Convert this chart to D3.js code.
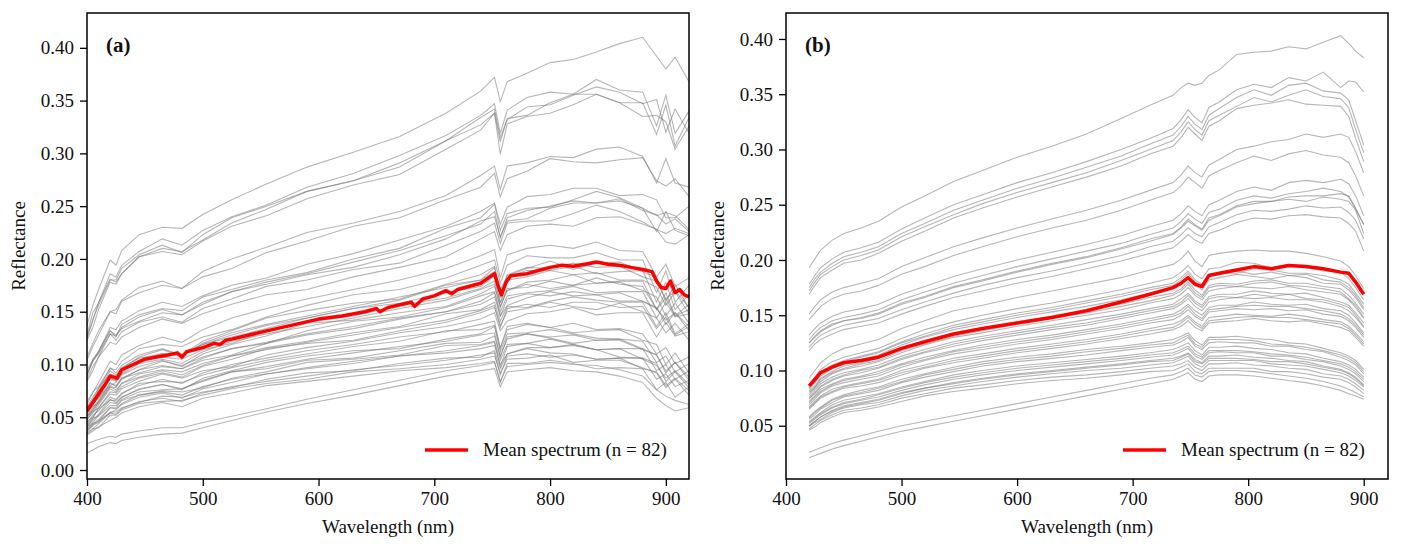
<!DOCTYPE html>
<html>
<head>
<meta charset="utf-8">
<script src="https://cdn.jsdelivr.net/npm/d3@7"></script>
<style>
  body { margin: 0; background: #fff; }
</style>
</head>
<body>
<svg id="chart" width="1401" height="548"></svg>
<script>
// reflectance values are stored in percent

// ---- panel (a): raw spectra ----
const wlA = [400, 405, 410, 420, 425, 430, 445, 465, 482, 500, 525, 555, 590, 630, 670, 710, 740, 752, 757, 763, 780, 800, 820, 840, 860, 880, 892, 900, 908, 920]

const meanWlA = [400, 405, 410, 415, 420, 423, 426, 430, 440, 450, 460, 470, 478, 482, 486, 500, 510, 515, 520, 525, 540, 560, 580, 600, 620, 640, 650, 653, 660, 680, 683, 690, 700, 710, 715, 720, 740, 748, 752, 755, 758, 762, 766, 780, 790, 800, 810, 820, 830, 840, 850, 860, 870, 880, 888, 892, 896, 900, 904, 908, 912, 916, 920]
const meanA = [5.6, 6.4, 7.2, 8.0, 8.9, 8.8, 8.7, 9.5, 10.0, 10.5, 10.7, 10.9, 11.1, 10.7, 11.2, 11.6, 12.0, 11.9, 12.3, 12.4, 12.8, 13.3, 13.8, 14.3, 14.6, 15.0, 15.3, 15.0, 15.4, 15.9, 15.5, 16.2, 16.5, 17.0, 16.7, 17.1, 17.7, 18.3, 18.6, 17.5, 16.6, 17.8, 18.4, 18.6, 18.9, 19.2, 19.4, 19.3, 19.5, 19.7, 19.5, 19.4, 19.2, 19.0, 18.8, 17.9, 17.3, 17.2, 17.9, 16.8, 17.1, 16.6, 16.4]

const spectraA = [
  [13.7,15.6,17.1,19.9,19.4,20.8,22.3,23.0,22.9,24.2,25.6,27.1,28.7,30.1,31.6,33.8,35.9,37.2,34.9,36.8,37.6,38.6,38.9,39.6,40.4,41.0,39.2,38.0,39.1,36.8],
  [12.8,14.9,15.8,18.6,18.3,19.4,20.7,21.9,21.3,22.7,24.0,25.1,26.8,28.1,29.8,31.7,33.6,34.7,31.9,34.1,35.3,35.8,35.6,37.0,36.0,35.8,32.6,35.5,31.9,34.0],
  [12.6,14.3,15.6,18.0,18.0,19.1,20.4,21.3,20.6,22.3,23.9,25.0,26.4,27.4,29.1,31.2,33.4,34.2,31.5,33.2,34.4,34.6,35.5,36.3,35.8,34.7,35.1,32.0,34.2,31.9],
  [12.5,14.1,15.9,18.1,17.8,18.6,20.2,21.0,20.7,21.8,23.4,24.7,26.4,27.4,28.7,31.2,32.7,33.8,31.1,33.3,33.6,34.8,35.6,35.6,34.8,34.8,31.8,34.6,30.7,33.4],
  [12.3,13.5,15.2,17.8,17.6,18.6,20.2,20.7,20.4,21.7,23.1,24.1,25.7,27.0,28.0,30.4,32.2,33.8,29.9,32.8,33.5,33.8,34.6,35.6,34.8,33.5,33.6,33.0,30.4,32.6],
  [10.7,12.0,13.2,15.0,15.2,16.1,17.3,17.9,17.2,18.8,20.0,21.1,22.5,23.4,24.5,26.0,27.9,28.8,26.6,28.8,29.1,29.7,29.6,30.4,30.6,29.7,27.2,29.5,27.2,26.8],
  [10.4,11.7,12.8,15.0,14.8,16.0,16.8,17.5,17.2,18.3,19.1,20.6,21.7,23.1,23.9,25.6,26.8,28.1,25.9,27.6,28.3,29.5,29.2,29.1,29.4,29.6,27.4,26.9,27.6,25.9],
  [9.4,10.5,11.2,13.5,13.3,14.1,15.1,15.9,15.5,16.5,17.5,18.2,19.5,20.5,21.8,23.1,24.5,25.3,23.3,24.9,25.9,26.1,26.7,26.7,26.0,26.1,25.6,23.9,23.9,25.0],
  [9.1,10.3,11.3,13.2,12.6,13.8,14.7,15.3,15.1,16.4,17.1,18.0,18.7,20.0,21.0,22.9,23.9,25.2,22.7,24.3,24.8,24.9,25.6,26.4,25.8,24.8,24.1,24.4,24.1,22.8],
  [9.0,10.3,11.1,13.2,12.8,13.5,14.5,15.2,14.7,15.9,16.9,17.8,18.6,19.7,20.8,22.2,23.3,24.5,22.0,23.9,24.6,25.0,25.5,25.3,25.7,24.6,24.2,23.3,23.8,22.6],
  [8.9,10.4,11.0,12.9,12.7,13.4,14.1,14.9,14.7,15.7,16.9,17.6,18.5,19.2,20.4,21.9,23.6,24.0,22.1,23.6,23.8,24.8,25.3,25.3,25.5,24.8,22.6,24.5,22.7,22.2],
  [8.6,9.8,10.7,12.9,12.3,13.1,14.0,14.5,14.0,15.3,16.2,17.4,18.0,19.0,19.6,21.3,22.6,23.4,21.5,23.4,23.6,23.6,24.3,25.1,24.5,23.5,22.8,22.4,22.9,22.4],
  [8.4,9.4,10.7,12.1,11.9,12.6,13.5,14.3,13.9,14.8,15.7,16.6,17.1,18.3,19.2,20.2,21.9,22.6,20.8,22.3,23.1,23.3,23.1,23.9,24.0,23.3,22.8,21.6,21.4,22.3],
  [6.5,7.3,8.3,10.3,10.0,10.9,11.8,12.6,12.1,13.3,14.4,15.3,16.2,17.1,18.0,19.1,20.3,20.9,18.2,20.4,21.0,21.3,21.0,21.6,20.8,20.7,18.3,19.5,17.4,18.2],
  [6.2,7.4,7.9,9.6,9.5,10.3,11.5,11.9,11.7,12.6,13.3,14.5,15.6,16.6,17.1,18.2,19.4,19.9,17.7,19.4,20.3,20.1,20.1,20.6,19.9,19.9,16.8,18.9,15.9,17.5],
  [6.0,6.9,7.7,9.7,9.2,9.9,10.9,11.5,10.9,12.2,13.2,14.4,15.1,15.8,16.2,17.6,18.5,19.3,17.1,18.4,19.1,19.8,19.0,19.6,19.7,18.8,18.2,16.0,17.6,15.3],
  [5.9,6.5,7.5,9.4,9.0,9.6,10.7,11.4,10.8,12.0,13.0,13.8,14.6,15.5,16.4,17.3,18.0,19.2,16.3,18.5,19.2,19.1,19.6,19.2,19.3,18.3,17.9,16.2,17.0,15.4],
  [5.8,6.7,7.8,9.1,8.9,9.7,10.6,11.0,11.0,11.9,12.8,13.7,14.4,15.3,16.1,17.5,18.0,18.8,16.7,18.3,18.9,18.9,19.3,18.6,18.8,18.9,15.9,17.8,15.2,16.6],
  [5.7,6.6,7.3,8.9,8.5,9.5,10.4,11.0,10.8,11.9,12.6,13.4,14.4,15.3,15.8,16.8,17.4,18.4,15.8,18.0,18.3,18.9,18.5,18.7,18.0,18.0,17.3,15.6,16.9,14.8],
  [5.5,6.1,7.1,8.7,8.5,9.2,10.4,10.7,10.5,11.4,12.0,13.1,14.0,14.6,15.6,16.3,17.2,17.9,15.9,17.0,17.8,18.0,18.5,17.7,17.9,17.9,15.2,16.8,14.6,15.7],
  [5.5,6.4,6.8,8.6,8.4,9.1,10.1,10.5,10.1,11.2,12.2,12.9,13.6,14.4,15.3,16.1,17.1,17.6,15.4,17.2,17.3,17.9,17.5,18.2,17.6,17.4,15.2,16.3,14.6,15.2],
  [5.4,6.2,6.9,8.0,8.3,9.0,9.8,10.4,9.8,11.0,11.9,12.7,13.9,14.2,14.9,15.5,16.7,17.4,15.5,17.0,17.6,17.2,17.5,17.7,17.8,17.0,16.4,14.6,15.8,13.9],
  [5.2,6.0,6.4,8.2,8.0,8.7,9.5,10.3,9.9,10.7,11.5,12.0,13.2,14.1,14.5,15.4,16.5,16.9,15.0,16.5,16.8,17.0,17.4,16.8,16.9,16.9,14.4,15.9,14.5,14.8],
  [5.1,5.8,6.6,8.3,7.9,8.6,9.5,9.9,9.6,10.6,11.5,12.1,12.9,13.6,14.4,15.0,16.0,16.8,14.6,16.2,16.7,16.5,16.9,16.6,16.8,16.0,15.3,14.2,14.9,13.6],
  [5.1,5.6,6.5,7.9,7.8,8.7,9.2,9.8,9.6,10.4,10.9,12.0,12.8,13.4,14.3,15.0,15.7,16.4,14.6,15.6,16.3,16.9,16.5,16.6,16.0,16.0,15.4,13.8,14.9,13.2],
  [4.9,5.7,6.3,7.9,7.6,8.2,9.1,9.5,9.3,10.1,10.8,11.6,12.2,13.0,13.6,14.8,15.2,15.9,14.1,15.5,15.4,16.0,16.4,16.1,15.9,15.9,13.6,14.9,12.9,13.9],
  [4.8,5.4,6.2,7.7,7.4,8.2,8.8,9.4,9.0,9.9,10.8,11.4,12.1,12.8,13.5,14.2,15.1,15.6,13.5,15.3,15.7,15.4,15.9,15.9,15.4,15.5,13.4,14.5,12.8,13.6],
  [4.8,5.5,5.9,7.4,7.3,7.9,8.7,9.2,8.8,9.8,10.5,11.5,12.0,12.3,13.2,14.0,14.9,15.4,13.7,15.0,15.3,15.9,15.5,15.2,15.8,15.0,14.4,13.0,13.9,12.3],
  [4.6,5.0,5.9,7.2,7.1,7.7,8.4,9.1,8.7,9.4,9.8,10.9,11.6,12.2,13.0,13.6,14.3,14.9,13.2,14.1,14.8,15.0,15.4,14.7,14.9,14.9,12.6,14.0,12.7,13.1],
  [4.4,5.2,5.6,6.9,6.7,7.3,8.0,8.6,8.2,9.2,10.0,10.6,11.3,11.9,12.6,13.1,13.8,14.1,11.5,13.6,13.9,13.5,13.9,13.3,13.4,12.9,11.0,11.6,10.1,10.7],
  [4.3,4.9,5.8,6.6,6.6,7.2,8.2,8.4,8.3,9.0,9.7,10.4,11.0,11.7,12.2,13.2,13.3,13.7,11.6,13.3,13.8,13.5,13.0,13.2,13.3,12.3,11.9,10.0,11.1,9.2],
  [4.2,4.7,5.3,6.7,6.4,6.9,7.7,8.1,7.6,8.7,9.4,10.2,10.8,11.3,11.5,12.4,12.9,13.6,11.2,12.9,13.0,13.3,12.9,12.5,12.4,12.2,10.2,10.8,9.3,10.1],
  [4.1,4.5,5.2,6.4,6.3,6.9,7.6,8.1,7.7,8.5,9.3,9.8,10.5,11.1,11.7,12.2,12.8,13.0,10.7,12.6,12.9,12.6,12.8,12.3,12.4,11.5,10.9,9.4,10.2,8.8],
  [4.0,4.9,5.1,6.1,6.1,6.7,7.4,7.6,7.7,8.4,9.3,9.6,10.4,10.6,11.3,12.0,12.1,12.7,10.8,12.4,12.9,12.5,12.0,12.3,12.3,11.4,10.9,9.2,10.2,8.5],
  [3.9,4.4,4.6,5.9,5.9,6.6,7.1,7.5,7.4,7.8,8.7,9.3,10.2,10.5,10.9,11.8,11.9,12.2,10.4,11.9,12.0,12.4,11.9,11.4,11.5,11.5,9.4,10.0,8.6,9.4],
  [3.8,4.4,4.8,5.9,5.8,6.3,7.1,7.4,7.1,7.9,8.6,9.1,9.7,10.3,10.8,11.3,11.8,12.1,9.8,11.7,12.0,11.6,11.8,11.4,11.5,10.5,9.9,8.7,9.4,8.1],
  [3.7,4.2,4.7,5.4,5.7,6.2,6.9,7.3,6.8,7.7,8.3,9.1,9.6,10.1,10.8,11.1,11.5,11.8,10.0,11.0,11.6,11.6,11.9,11.4,10.7,10.6,10.1,8.4,9.3,7.8],
  [3.6,4.3,4.5,5.5,5.5,5.9,6.4,7.0,6.9,7.4,7.8,8.6,9.2,9.4,10.1,10.6,10.7,11.3,9.6,11.0,11.5,11.1,11.0,10.5,10.6,10.6,8.6,9.1,7.9,8.5],
  [3.5,3.9,4.4,5.4,5.3,5.8,6.5,6.8,6.5,7.3,7.9,8.4,8.9,9.5,9.9,10.4,10.9,11.1,9.0,10.8,11.0,10.7,10.9,10.5,10.6,9.6,9.3,8.0,8.7,7.5],
  [3.4,3.9,4.0,5.2,5.2,5.7,6.3,6.5,6.6,7.1,7.7,8.2,8.6,9.3,9.6,10.0,10.5,10.8,9.2,10.5,10.6,10.9,10.2,10.4,10.4,9.7,9.2,7.8,8.6,7.1],
  [3.3,3.7,4.1,4.7,5.0,5.4,6.0,6.4,6.0,6.8,7.3,8.0,8.4,8.9,9.4,9.7,10.1,10.3,8.3,10.1,10.1,10.4,10.1,9.6,9.7,9.6,7.6,8.3,6.9,7.9],
  [2.5,2.7,2.9,3.2,3.1,3.4,3.7,4.0,4.0,4.5,5.1,5.8,6.7,7.6,8.5,9.4,9.9,10.2,8.4,9.8,10.0,10.2,10.0,9.9,9.5,8.9,7.6,7.0,6.6,6.2],
  [1.6,1.9,2.2,2.6,2.5,2.8,3.1,3.4,3.5,4.0,4.7,5.5,6.3,7.1,8.0,8.9,9.4,9.6,7.9,9.3,9.5,9.7,9.4,9.3,8.9,8.3,6.8,6.1,5.6,5.9]
]

// ---- panel (b): processed spectra ----
const wlB = [420, 425, 430, 440, 450, 465, 480, 500, 520, 545, 570, 600, 630, 660, 690, 715, 735, 742, 748, 754, 760, 766, 775, 790, 805, 820, 835, 850, 865, 880, 887, 893, 900]

const meanB = [8.6, 9.2, 9.8, 10.3, 10.7, 10.9, 11.2, 12.0, 12.6, 13.3, 13.8, 14.3, 14.8, 15.4, 16.2, 16.9, 17.5, 17.9, 18.4, 17.8, 17.6, 18.6, 18.8, 19.1, 19.4, 19.2, 19.5, 19.4, 19.2, 18.9, 18.8, 18.0, 16.9]

const spectraB = [
  [19.3,20.1,20.9,21.8,22.4,22.9,23.5,24.8,25.8,27.1,28.1,29.3,30.3,31.4,32.8,34.0,34.9,35.6,36.0,35.8,36.0,36.7,37.2,38.6,38.8,38.9,39.3,39.1,39.7,40.3,39.6,38.9,38.3],
  [17.8,18.6,19.3,20.1,20.7,21.1,21.6,22.8,23.8,25.0,25.9,27.0,27.9,28.9,30.0,31.0,31.9,32.7,33.6,32.9,32.4,33.8,34.3,35.4,35.9,35.6,36.5,36.2,37.0,35.6,36.2,36.1,35.2],
  [17.5,18.3,18.9,19.7,20.3,20.7,21.2,22.4,23.3,24.5,25.4,26.5,27.4,28.4,29.4,30.5,31.3,32.1,33.0,32.3,31.8,33.1,33.7,34.7,35.4,34.9,35.8,36.0,35.3,35.1,34.5,32.6,30.4],
  [17.2,18.0,18.7,19.4,20.0,20.4,20.9,22.1,23.0,24.1,25.1,26.1,27.0,27.9,29.0,30.0,30.8,31.6,32.5,31.8,31.3,32.6,33.1,33.9,34.7,34.3,34.9,35.4,34.8,34.6,33.8,31.8,29.7],
  [16.9,17.7,18.4,19.1,19.7,20.0,20.6,21.7,22.6,23.8,24.7,25.7,26.6,27.5,28.5,29.6,30.3,31.1,32.0,31.4,30.8,32.1,32.6,33.7,34.0,34.2,34.5,34.1,34.0,33.9,33.0,31.0,28.9],
  [15.1,15.8,16.4,17.1,17.5,17.9,18.3,19.4,20.2,21.2,22.0,22.9,23.7,24.5,25.4,26.3,27.0,27.7,28.5,27.9,27.5,28.6,29.1,30.0,30.3,30.7,30.9,31.4,31.1,31.4,31.1,29.8,27.9],
  [14.6,15.2,15.8,16.5,16.9,17.2,17.7,18.7,19.4,20.4,21.2,22.1,22.9,23.6,24.5,25.4,26.1,26.7,27.5,27.0,26.5,27.6,28.1,28.8,29.4,29.0,29.6,29.9,29.5,29.3,28.8,27.6,25.8],
  [13.2,13.8,14.3,14.9,15.3,15.6,16.0,16.9,17.6,18.5,19.2,20.0,20.7,21.4,22.2,23.0,23.6,24.2,24.9,24.4,24.0,25.0,25.4,26.2,26.6,26.3,27.0,27.2,27.0,27.3,26.9,25.8,24.0],
  [12.8,13.4,13.9,14.5,14.8,15.1,15.5,16.4,17.1,17.9,18.6,19.4,20.1,20.8,21.5,22.3,22.9,23.5,24.2,23.7,23.3,24.3,24.6,25.4,25.8,25.6,26.0,26.2,26.5,26.2,25.7,24.6,23.2],
  [12.5,13.1,13.6,14.2,14.5,14.8,15.2,16.1,16.7,17.6,18.2,19.0,19.7,20.3,21.1,21.9,22.4,23.0,23.7,23.2,22.8,23.8,24.1,24.9,25.3,25.3,25.7,25.8,25.8,26.0,25.8,24.7,23.2],
  [12.5,13.0,13.5,14.1,14.5,14.7,15.1,16.0,16.6,17.5,18.1,18.9,19.6,20.2,21.0,21.7,22.3,22.9,23.5,23.1,22.7,23.6,24.0,24.8,25.1,25.3,25.5,25.3,25.7,25.5,25.3,24.5,22.4],
  [12.1,12.7,13.2,13.7,14.1,14.4,14.7,15.5,16.2,17.0,17.7,18.4,19.0,19.7,20.4,21.2,21.7,22.3,22.9,22.4,22.1,23.0,23.4,24.1,24.5,24.4,24.6,24.9,24.7,24.8,24.3,23.6,21.9],
  [11.8,12.4,12.8,13.3,13.7,14.0,14.3,15.1,15.8,16.6,17.2,17.9,18.5,19.2,19.9,20.6,21.1,21.7,22.3,21.8,21.5,22.4,22.7,23.4,23.8,23.7,24.0,24.1,23.9,23.8,23.3,22.6,20.8],
  [9.3,10.0,10.7,11.5,12.0,12.4,12.8,13.8,14.5,15.4,15.9,16.6,17.2,17.8,18.4,19.1,19.6,20.1,20.8,19.9,19.4,20.4,20.6,20.8,20.9,20.8,20.8,20.6,20.3,19.9,19.4,18.6,17.4],
  [8.7,9.4,10.1,10.8,11.2,11.6,12.0,12.9,13.7,14.4,15.0,15.6,16.1,16.7,17.3,17.9,18.4,18.9,19.5,18.7,18.3,19.2,19.3,19.8,19.7,19.3,19.6,19.3,19.0,18.9,18.3,17.5,16.4],
  [8.5,9.1,9.8,10.5,10.9,11.3,11.7,12.6,13.3,14.1,14.6,15.2,15.7,16.3,16.9,17.5,17.9,18.4,19.0,18.2,17.8,18.7,18.8,18.8,19.2,19.1,18.8,18.8,18.6,18.2,17.8,17.0,16.0],
  [8.4,9.0,9.7,10.4,10.8,11.2,11.6,12.5,13.1,13.9,14.4,15.0,15.5,16.1,16.7,17.3,17.7,18.2,18.8,18.0,17.6,18.5,18.7,19.0,18.7,18.9,18.6,18.7,18.2,18.0,17.5,16.8,15.7],
  [8.3,8.9,9.5,10.2,10.7,11.0,11.4,12.3,13.0,13.7,14.2,14.8,15.3,15.8,16.4,17.0,17.5,17.9,18.5,17.8,17.3,18.2,18.4,18.7,18.5,18.3,18.6,18.4,17.9,17.8,17.3,16.6,15.5],
  [8.1,8.6,9.3,9.9,10.4,10.7,11.1,12.0,12.6,13.3,13.8,14.4,14.9,15.4,16.0,16.6,17.0,17.4,18.0,17.3,16.8,17.7,17.9,17.8,18.1,18.2,17.9,17.9,17.6,17.4,16.8,16.1,15.1],
  [8.0,8.5,9.2,9.8,10.2,10.6,10.9,11.8,12.4,13.1,13.6,14.2,14.7,15.2,15.8,16.3,16.8,17.2,17.8,17.0,16.6,17.5,17.7,17.6,17.9,18.0,17.7,17.6,17.4,17.1,16.5,15.9,14.8],
  [7.8,8.4,9.0,9.7,10.1,10.4,10.8,11.6,12.3,13.0,13.4,14.0,14.5,15.0,15.5,16.1,16.5,16.9,17.5,16.8,16.4,17.2,17.4,17.6,17.5,17.4,17.6,17.3,17.1,16.9,16.4,15.7,14.7],
  [7.6,8.2,8.8,9.4,9.8,10.1,10.5,11.3,11.9,12.6,13.1,13.6,14.1,14.6,15.1,15.6,16.0,16.5,17.0,16.3,15.9,16.7,16.9,16.9,17.2,17.0,16.9,17.0,16.6,16.2,15.9,15.2,14.3],
  [7.5,8.0,8.6,9.2,9.6,10.0,10.3,11.1,11.7,12.4,12.9,13.4,13.9,14.3,14.9,15.4,15.8,16.2,16.8,16.1,15.7,16.5,16.7,16.6,16.9,16.7,16.9,16.5,16.4,16.0,15.7,15.0,14.0],
  [7.4,7.9,8.5,9.1,9.5,9.8,10.2,11.0,11.6,12.2,12.7,13.2,13.7,14.1,14.7,15.2,15.6,16.0,16.5,15.8,15.4,16.2,16.4,16.6,16.5,16.6,16.4,16.4,16.2,15.8,15.4,14.8,13.9],
  [7.2,7.7,8.3,8.8,9.2,9.5,9.9,10.6,11.2,11.8,12.3,12.8,13.2,13.7,14.2,14.7,15.1,15.5,16.0,15.4,15.0,15.7,15.9,15.9,16.2,16.0,15.9,16.0,15.6,15.4,15.0,14.3,13.4],
  [7.1,7.6,8.1,8.7,9.1,9.4,9.7,10.5,11.0,11.7,12.1,12.6,13.0,13.5,14.0,14.5,14.9,15.2,15.8,15.1,14.7,15.5,15.6,15.8,15.9,15.8,15.8,15.6,15.4,15.1,14.7,14.1,13.2],
  [6.9,7.4,8.0,8.6,8.9,9.2,9.5,10.3,10.9,11.5,11.9,12.4,12.8,13.3,13.8,14.3,14.6,15.0,15.5,14.9,14.5,15.3,15.4,15.6,15.5,15.6,15.4,15.5,15.1,14.9,14.5,13.9,13.0],
  [6.7,7.2,7.7,8.3,8.6,8.9,9.2,10.0,10.5,11.1,11.5,12.0,12.4,12.8,13.3,13.8,14.2,14.5,15.0,14.4,14.0,14.8,14.9,15.1,15.0,14.9,15.1,14.9,14.6,14.4,14.0,13.4,12.6],
  [6.6,7.1,7.6,8.1,8.5,8.8,9.1,9.8,10.3,10.9,11.3,11.8,12.2,12.6,13.1,13.6,13.9,14.3,14.8,14.2,13.8,14.5,14.6,14.8,14.9,14.8,14.8,14.6,14.4,14.2,13.8,13.2,12.4],
  [6.5,7.0,7.5,8.0,8.4,8.6,8.9,9.6,10.2,10.7,11.1,11.6,12.0,12.4,12.9,13.3,13.7,14.0,14.5,13.9,13.6,14.3,14.4,14.5,14.7,14.5,14.4,14.5,14.2,13.9,13.6,13.0,12.2],
  [5.8,6.3,6.7,7.4,7.8,8.2,8.5,9.2,9.7,10.3,10.8,11.2,11.5,11.9,12.2,12.5,12.8,13.1,13.4,12.7,12.3,13.0,13.0,13.1,12.9,12.8,12.5,12.4,12.0,11.6,11.3,10.9,10.1],
  [5.7,6.2,6.6,7.3,7.7,8.0,8.4,9.0,9.6,10.1,10.6,11.0,11.3,11.7,12.0,12.3,12.5,12.9,13.2,12.4,12.1,12.8,12.8,12.8,12.7,12.4,12.3,12.1,11.8,11.4,11.1,10.7,9.9],
  [5.6,6.0,6.5,7.1,7.6,7.9,8.2,8.9,9.4,9.9,10.4,10.8,11.1,11.4,11.8,12.1,12.3,12.6,13.0,12.2,11.9,12.5,12.6,12.5,12.5,12.2,12.2,11.9,11.7,11.2,10.9,10.5,9.7],
  [5.4,5.8,6.2,6.9,7.3,7.6,7.9,8.5,9.0,9.6,10.0,10.4,10.7,11.0,11.3,11.6,11.9,12.2,12.5,11.8,11.4,12.1,12.1,12.2,12.0,11.9,11.6,11.5,11.1,10.8,10.5,10.1,9.4],
  [5.3,5.7,6.1,6.7,7.1,7.4,7.8,8.4,8.9,9.4,9.8,10.2,10.5,10.8,11.1,11.4,11.6,11.9,12.2,11.5,11.2,11.8,11.8,11.8,11.7,11.5,11.4,11.2,10.9,10.6,10.3,9.9,9.2],
  [5.2,5.6,6.0,6.6,7.0,7.3,7.6,8.2,8.7,9.2,9.6,10.0,10.3,10.6,10.9,11.2,11.4,11.7,12.0,11.3,11.0,11.6,11.7,11.6,11.6,11.3,11.3,11.0,10.8,10.4,10.1,9.7,9.0],
  [5.0,5.4,5.8,6.4,6.8,7.1,7.4,8.0,8.4,8.9,9.3,9.7,10.0,10.3,10.6,10.9,11.1,11.3,11.6,11.0,10.7,11.3,11.3,11.4,11.2,11.1,10.9,10.8,10.4,10.1,9.8,9.4,8.7],
  [5.0,5.4,5.8,6.3,6.7,7.0,7.3,7.9,8.4,8.8,9.2,9.6,9.9,10.2,10.5,10.8,10.9,11.2,11.5,10.8,10.6,11.1,11.1,11.1,11.0,10.8,10.8,10.6,10.3,10.0,9.7,9.3,8.6],
  [4.9,5.3,5.6,6.2,6.6,6.9,7.1,7.7,8.2,8.6,9.0,9.4,9.7,10.0,10.2,10.5,10.7,11.0,11.3,10.6,10.3,10.9,10.9,10.9,10.9,10.6,10.5,10.4,10.1,9.8,9.5,9.1,8.5],
  [4.7,5.1,5.5,6.0,6.4,6.6,6.9,7.5,7.9,8.4,8.7,9.1,9.4,9.6,9.9,10.2,10.4,10.6,10.9,10.3,10.0,10.6,10.6,10.7,10.5,10.4,10.2,10.1,9.7,9.5,9.2,8.8,8.2],
  [4.6,4.9,5.3,5.8,6.2,6.4,6.7,7.2,7.7,8.1,8.4,8.8,9.1,9.3,9.6,9.9,10.0,10.3,10.6,9.9,9.7,10.2,10.2,10.2,10.2,9.9,9.9,9.7,9.4,9.2,8.9,8.5,7.9],
  [2.6,2.8,3.0,3.4,3.7,4.1,4.5,5.0,5.4,5.9,6.4,7.0,7.6,8.2,8.8,9.3,9.6,9.9,10.2,9.6,9.4,9.9,10.0,10.0,9.9,9.7,9.5,9.3,9.0,8.6,8.3,8.0,7.6],
  [2.1,2.3,2.5,2.9,3.2,3.6,4.0,4.5,4.9,5.4,5.9,6.5,7.1,7.7,8.3,8.8,9.2,9.5,9.8,9.2,9.0,9.5,9.6,9.6,9.5,9.3,9.1,8.9,8.6,8.2,7.9,7.7,7.4]
]

// ---- axes ----
const xTicks = [400, 500, 600, 700, 800, 900]
const yTicksA = [0.00, 0.05, 0.10, 0.15, 0.20, 0.25, 0.30, 0.35, 0.40]
const yTicksB = [0.05, 0.10, 0.15, 0.20, 0.25, 0.30, 0.35, 0.40]
const legendLabel = 'Mean spectrum (n = 82)'

const serif = '"Liberation Serif", "Times New Roman", Times, serif'
const svg = d3.select('#chart')

const panels = [
  { id: 'a', label: '(a)', left: 87, right: 689, top: 13, bottom: 479,
    xDomain: [400, 920], yDomain: [-0.0085, 0.433], yTicks: yTicksA,
    wl: wlA, spectra: spectraA, meanWl: meanWlA, mean: meanA, legendX: 425 },
  { id: 'b', label: '(b)', left: 786, right: 1388, top: 13, bottom: 479,
    xDomain: [400, 921], yDomain: [0.0018, 0.4235], yTicks: yTicksB,
    wl: wlB, spectra: spectraB, meanWl: wlB, mean: meanB, legendX: 1123 }
]

panels.forEach(p => {
  const x = d3.scaleLinear().domain(p.xDomain).range([p.left, p.right])
  const y = d3.scaleLinear().domain(p.yDomain).range([p.bottom, p.top])

  svg.append('clipPath').attr('id', 'clip-' + p.id)
    .append('rect')
    .attr('x', p.left).attr('y', p.top)
    .attr('width', p.right - p.left).attr('height', p.bottom - p.top)

  const g = svg.append('g').attr('clip-path', 'url(#clip-' + p.id + ')')

  const line = d3.line()
    .x(d => x(d[0]))
    .y(d => y(d[1] / 100))

  g.selectAll('.spec')
    .data(p.spectra)
    .enter()
    .append('path')
    .attr('class', 'spec')
    .attr('d', s => line(s.map((v, i) => [p.wl[i], v])))
    .attr('fill', 'none')
    .attr('stroke', '#7a7a7a')
    .attr('stroke-opacity', 0.55)
    .attr('stroke-width', 1.1)

  g.append('path')
    .attr('d', line(p.mean.map((v, i) => [p.meanWl[i], v])))
    .attr('fill', 'none')
    .attr('stroke', '#ff0000')
    .attr('stroke-width', 3.5)
    .attr('stroke-linejoin', 'round')

  // x axis
  const xAxis = svg.append('g')
    .attr('transform', 'translate(0,' + p.bottom + ')')
    .call(d3.axisBottom(x).tickValues(xTicks).tickSize(7).tickPadding(6).tickFormat(d3.format('d')))
  // y axis
  const yAxis = svg.append('g')
    .attr('transform', 'translate(' + p.left + ',0)')
    .call(d3.axisLeft(y).tickValues(p.yTicks).tickSize(7).tickPadding(6).tickFormat(d3.format('.2f')))

  ;[xAxis, yAxis].forEach(ax => {
    ax.select('.domain').remove()
    ax.selectAll('line').attr('stroke', '#000').attr('stroke-width', 1.3)
    ax.selectAll('text')
      .attr('fill', '#111')
      .style('font-family', serif)
      .style('font-size', '19px')
  })

  // frame
  svg.append('rect')
    .attr('x', p.left).attr('y', p.top)
    .attr('width', p.right - p.left).attr('height', p.bottom - p.top)
    .attr('fill', 'none')
    .attr('stroke', '#000')
    .attr('stroke-width', 1.5)

  // axis titles
  svg.append('text')
    .attr('x', (p.left + p.right) / 2)
    .attr('y', 533)
    .attr('text-anchor', 'middle')
    .style('font-family', serif)
    .style('font-size', '19px')
    .attr('fill', '#111')
    .text('Wavelength (nm)')

  svg.append('text')
    .attr('transform', 'translate(' + (p.left - 62) + ',' + ((p.top + p.bottom) / 2) + ') rotate(-90)')
    .attr('text-anchor', 'middle')
    .style('font-family', serif)
    .style('font-size', '19px')
    .attr('fill', '#111')
    .text('Reflectance')

  // panel letter
  svg.append('text')
    .attr('x', p.left + 19)
    .attr('y', 52)
    .style('font-family', serif)
    .style('font-size', '21px')
    .style('font-weight', 'bold')
    .attr('fill', '#111')
    .text(p.label)

  // legend
  svg.append('line')
    .attr('x1', p.legendX).attr('x2', p.legendX + 43)
    .attr('y1', 450).attr('y2', 450)
    .attr('stroke', '#ff0000')
    .attr('stroke-width', 3.5)

  svg.append('text')
    .attr('x', p.legendX + 58)
    .attr('y', 456)
    .style('font-family', serif)
    .style('font-size', '19px')
    .attr('fill', '#111')
    .text(legendLabel)
})
</script>
</body>
</html>
